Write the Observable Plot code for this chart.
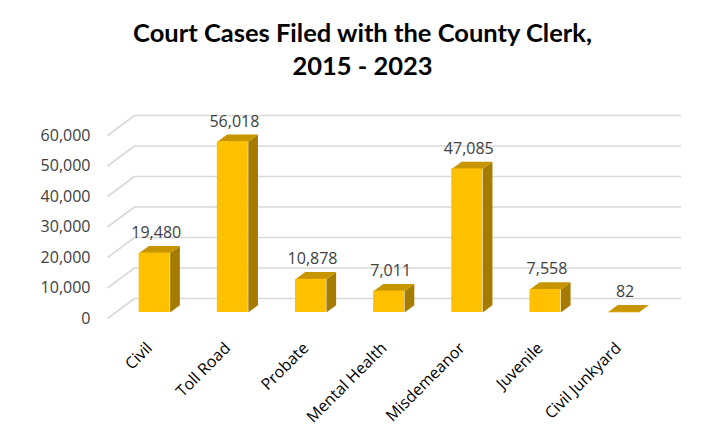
<!DOCTYPE html>
<html>
<head>
<meta charset="utf-8">
<script src="https://cdn.jsdelivr.net/npm/d3@7"></script>
<script src="https://cdn.jsdelivr.net/npm/@observablehq/plot@0.6"></script>
<style>
  html, body { margin: 0; padding: 0; background: #fff; }
  #wrap { width: 725px; height: 439px; overflow: hidden; }
  #title { height: 90px; box-sizing: border-box; padding-top: 16px; text-align: center;
           font-family: Lato, sans-serif; font-weight: bold; font-size: 25.5px; line-height: 33px; color: #000; }
</style>
</head>
<body>
<div id="wrap">
  <div id="title">Court Cases Filed with the County Clerk,<br>2015 - 2023</div>
  <div id="chart"></div>
</div>
<script>
// ---- data ----
const categories = ["Civil", "Toll Road", "Probate", "Mental Health", "Misdemeanor", "Juvenile", "Civil Junkyard"];
const values = [19480, 56018, 10878, 7011, 47085, 7558, 82];
const yTicks = [0, 10000, 20000, 30000, 40000, 50000, 60000];

// ---- 3D geometry (in data units) ----
const DX = 0.3455;   // depth vector, x units (front -> back wall)
const DY = 6560;     // depth vector, y units
const t0 = 0.3;      // bar front face depth
const t1 = 0.66;     // bar back face depth
const hw = 0.198;    // half bar width

const rows = categories.map((c, i) => ({c, i, v: values[i]}));
const P = (x, y, t) => ({x: x + t * DX, y: y + t * DY});

const sidePts = rows.flatMap(r => [
  P(r.i + hw, 0, t0), P(r.i + hw, r.v, t0), P(r.i + hw, r.v, t1), P(r.i + hw, 0, t1)
].map(p => ({...p, c: r.c})));
const topPts = rows.flatMap(r => [
  P(r.i - hw, r.v, t0), P(r.i + hw, r.v, t0), P(r.i + hw, r.v, t1), P(r.i - hw, r.v, t1)
].map(p => ({...p, c: r.c})));

const lo = -0.5, hi = categories.length - 0.5;

const chart = Plot.plot({
  width: 725,
  height: 349,
  marginLeft: 107,
  marginRight: 71,
  marginTop: 45,
  marginBottom: 121,
  style: {fontFamily: "'Open Sans', sans-serif", fontSize: "16px", color: "#404040", background: "#fff"},
  x: {domain: [lo, hi], axis: null},
  y: {domain: [0, 60000], axis: null},
  marks: [
    // back wall gridlines
    Plot.ruleY(yTicks, {y: d => d + DY, x1: lo + DX, x2: hi + DX, stroke: "#d9d9d9", strokeWidth: 1.6}),
    // left side wall diagonals
    Plot.link(yTicks, {x1: lo, y1: d => d, x2: lo + DX, y2: d => d + DY, stroke: "#d9d9d9", strokeWidth: 1.6}),
    // bars: side, top, front
    Plot.line(sidePts, {x: "x", y: "y", z: "c", fill: "#a67c00", stroke: "none", curve: "linear-closed"}),
    Plot.line(topPts, {x: "x", y: "y", z: "c", fill: "#c79500", stroke: "none", curve: "linear-closed"}),
    Plot.rect(rows, {
      x1: r => r.i - hw + t0 * DX, x2: r => r.i + hw + t0 * DX,
      y1: t0 * DY, y2: r => r.v + t0 * DY, fill: "#ffc000"
    }),
    // data labels
    Plot.text(rows, {
      x: r => r.i + t0 * DX + 0.02, y: r => r.v + t1 * DY, text: r => d3.format(",")(r.v),
      dy: -13, fill: "#404040", fontSize: 16
    }),
    // y axis labels
    Plot.text(yTicks, {
      x: lo, y: d => d, text: d => d3.format(",")(d), textAnchor: "end", dx: -17,
      fill: "#404040", fontSize: 16
    }),
    // x axis labels
    Plot.text(rows, {
      x: "i", y: 0, text: "c", rotate: -45, textAnchor: "end", dx: 3, dy: 27,
      fill: "#000", fontSize: 16
    })
  ]
});
document.getElementById("chart").appendChild(chart);
</script>
</body>
</html>
